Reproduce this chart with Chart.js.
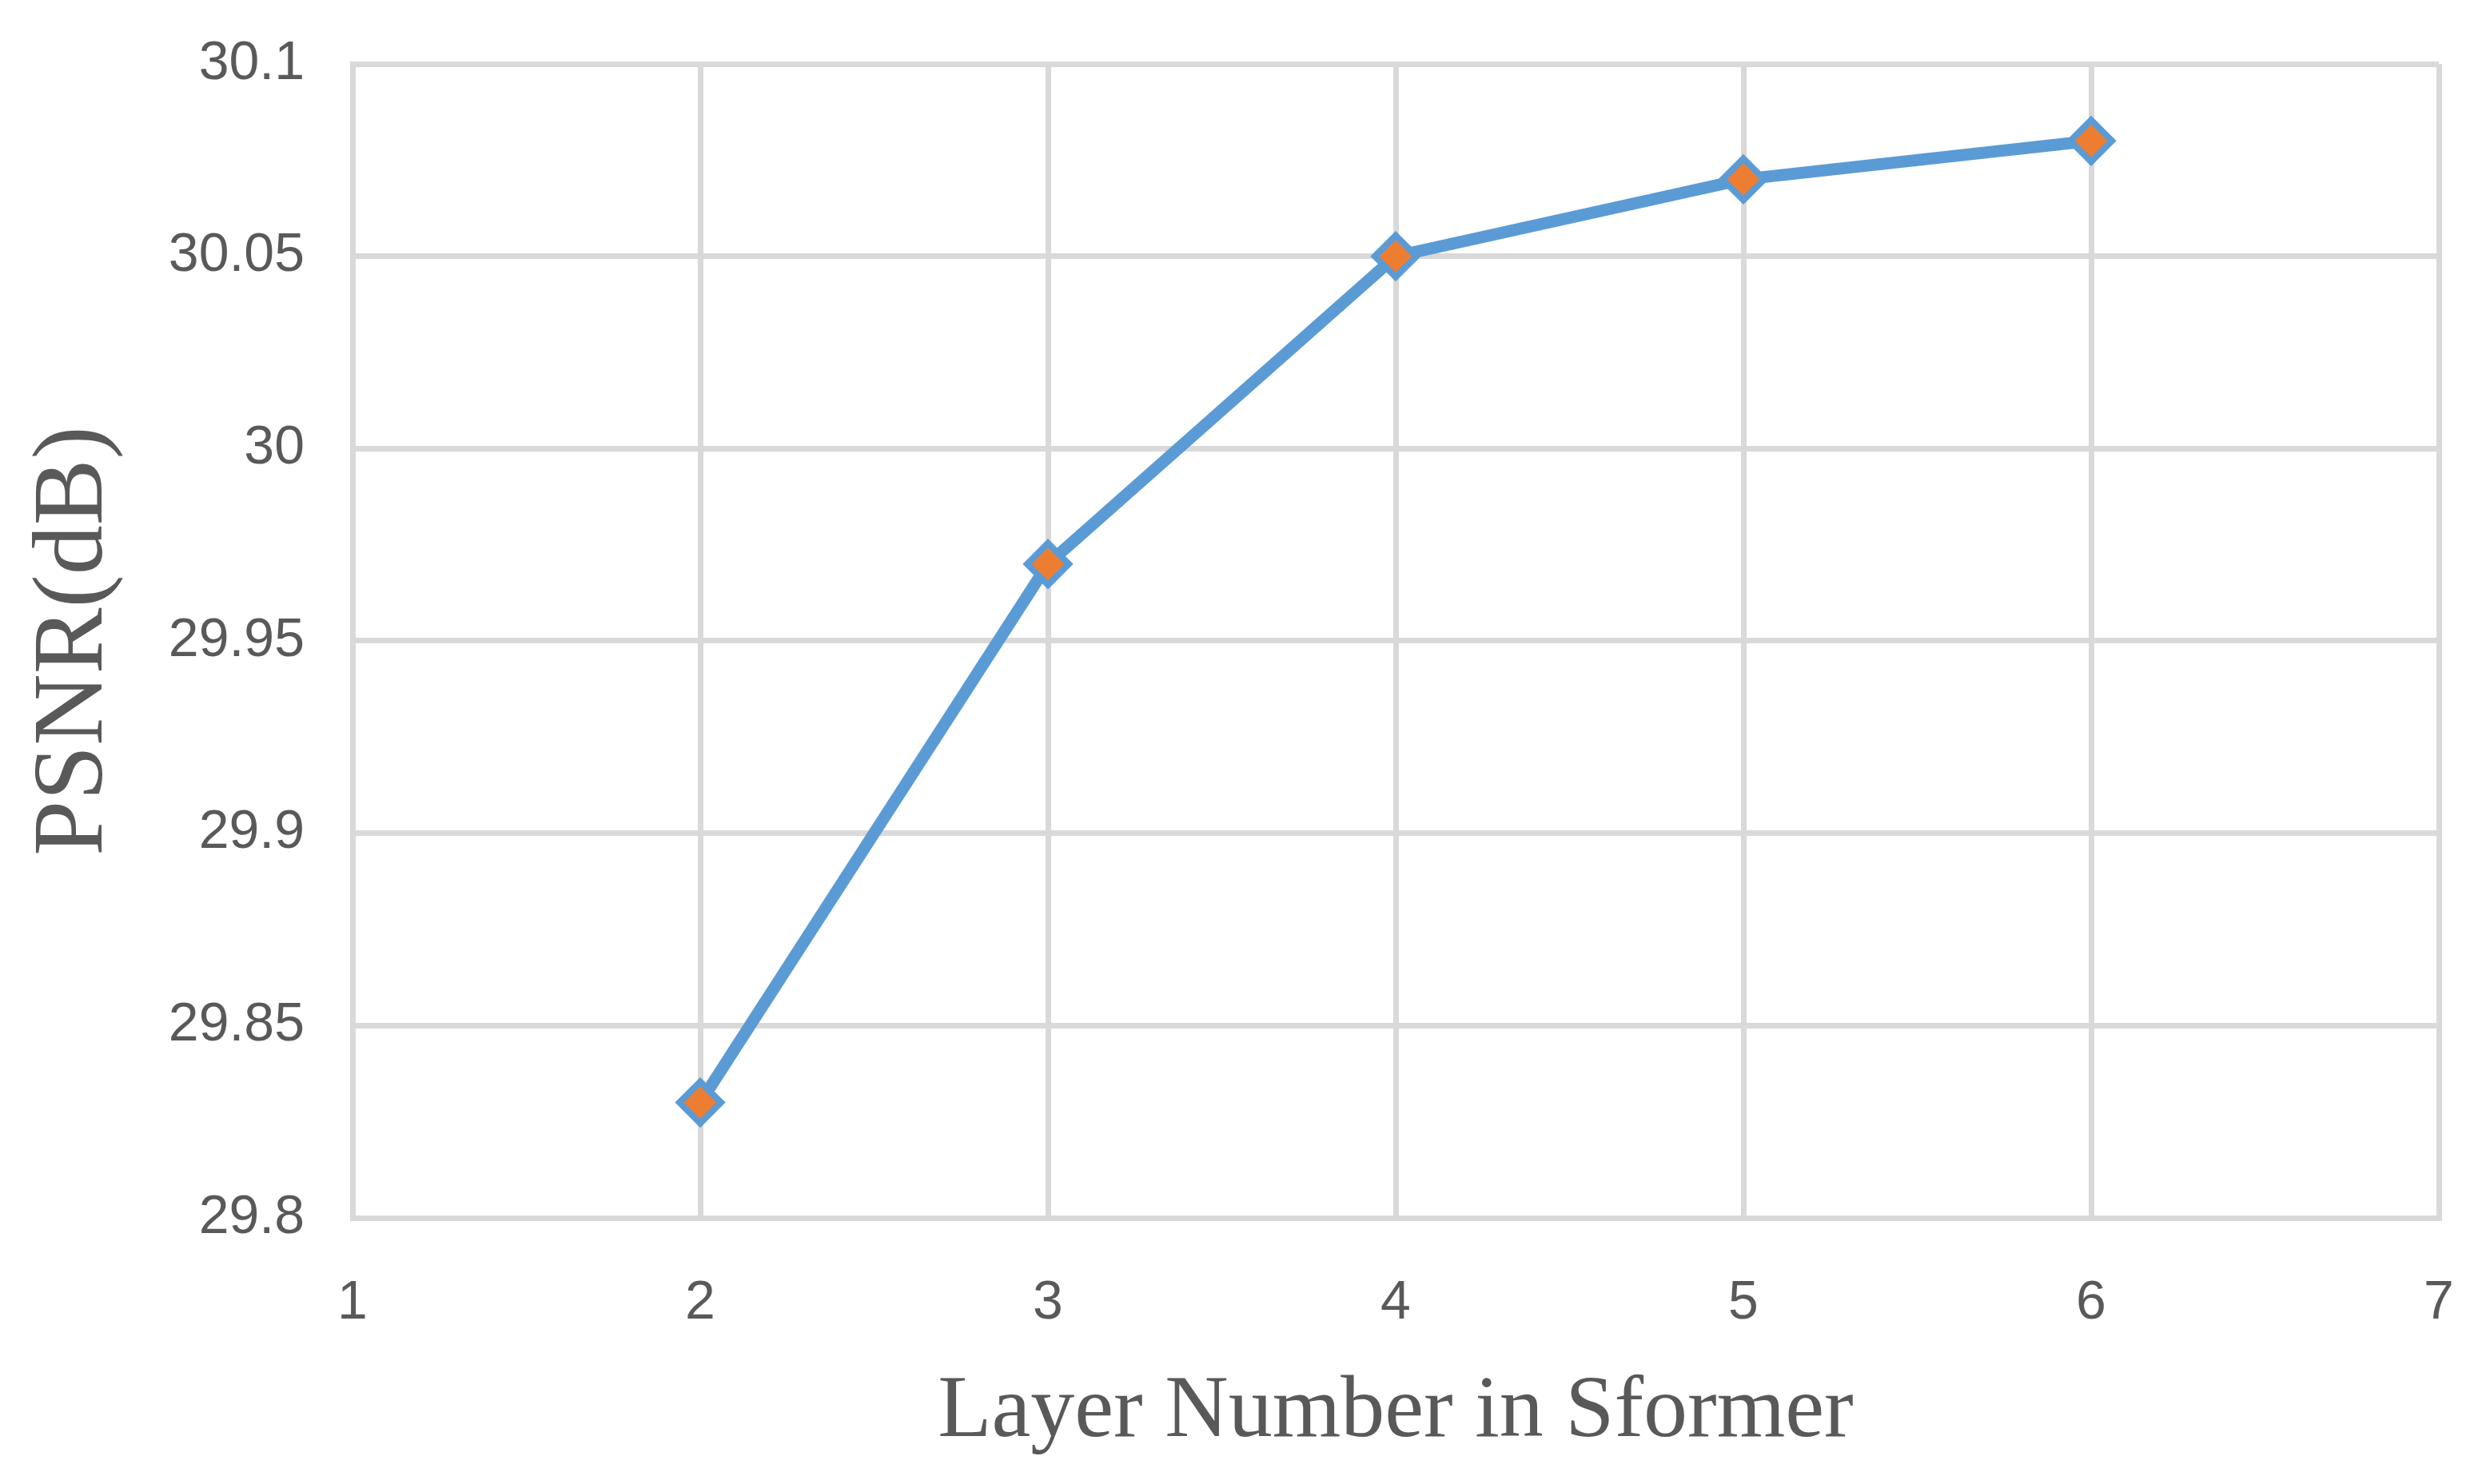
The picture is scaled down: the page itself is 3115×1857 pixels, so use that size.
<!DOCTYPE html>
<html>
<head>
<meta charset="utf-8">
<script src="https://cdn.jsdelivr.net/npm/chart.js@4.4.0/dist/chart.umd.min.js"></script>
<style>
    html, body { margin: 0; padding: 0; background: #ffffff; }
    #wrap { width: 3115px; height: 1857px; }
</style>
</head>
<body>
<div id="wrap"><canvas id="psnrChart" width="3115" height="1857"></canvas></div>
<script>
var layers = [2, 3, 4, 5, 6];
var psnr = [29.83, 29.97, 30.05, 30.07, 30.08];
var xTicks = ['1', '2', '3', '4', '5', '6', '7'];
var yTicks = ['29.8', '29.85', '29.9', '29.95', '30', '30.05', '30.1'];

var points = layers.map(function (l, i) {
    return { x: l, y: psnr[i] };
});

var gridColor = '#d9d9d9';
var textColor = '#595959';

var ctx = document.getElementById('psnrChart');

window.psnrChart = new Chart(ctx, {
    type: 'line',
    data: {
        datasets: [
            {
                label: 'PSNR',
                data: points,
                borderColor: '#5b9bd5',
                borderWidth: 15,
                pointStyle: 'rectRot',
                pointRadius: 26,
                pointBorderWidth: 8,
                pointBackgroundColor: '#ed7d31',
                pointBorderColor: '#5b9bd5',
                tension: 0
            }
        ]
    },
    options: {
        responsive: false,
        animation: false,
        layout: {
            padding: { left: 20, right: 64, top: 80, bottom: 23 }
        },
        scales: {
            x: {
                type: 'linear',
                min: 1,
                max: 7,
                afterFit: function (scale) { scale.height = 1857 - 1524 - 23; },
                ticks: {
                    stepSize: 1,
                    padding: 2,
                    color: textColor,
                    font: { family: 'Liberation Sans', size: 68 },
                    callback: function (value, index) { return xTicks[index]; }
                },
                // invisible tick marks push the labels away from the axis
                grid: { color: gridColor, lineWidth: 7, tickLength: 64, tickColor: 'rgba(0,0,0,0)' },
                border: { color: gridColor, width: 7 },
                title: {
                    display: true,
                    text: 'Layer Number in Sformer',
                    color: textColor,
                    font: { family: 'Liberation Serif', size: 110 },
                    padding: 0
                }
            },
            y: {
                min: 29.8,
                max: 30.1,
                afterFit: function (scale) { scale.width = 441 - 20; },
                ticks: {
                    stepSize: 0.05,
                    padding: 2,
                    color: textColor,
                    font: { family: 'Liberation Sans', size: 68 },
                    callback: function (value, index) { return yTicks[index]; }
                },
                grid: { color: gridColor, lineWidth: 7, tickLength: 58, tickColor: 'rgba(0,0,0,0)' },
                border: { color: gridColor, width: 7 },
                title: {
                    display: true,
                    text: 'PSNR(dB)',
                    color: textColor,
                    font: { family: 'Liberation Serif', size: 124 },
                    padding: 0
                }
            }
        },
        plugins: {
            legend: { display: false },
            tooltip: { enabled: false }
        }
    }
});
</script>
</body>
</html>
